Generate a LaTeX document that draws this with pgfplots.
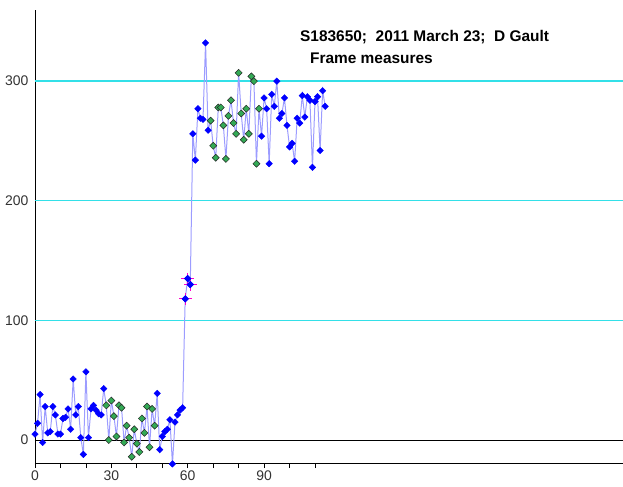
\documentclass[border=0pt]{standalone}
\usepackage{fontspec}
\setmainfont{Liberation Sans}
\usepackage{pgfplots}
\usepackage{pgfplotstable}
\pgfplotsset{compat=1.18}
\definecolor{lav}{HTML}{9C9CFF}
\definecolor{ptblue}{HTML}{0000FF}
\definecolor{ptgreen}{HTML}{33AA55}
\definecolor{gridcyan}{HTML}{33E0E8}
\definecolor{lbl}{HTML}{333333}
\definecolor{errmag}{HTML}{FF00CC}

\pgfplotstableread{
x y c
0 5 0
1 14 0
2 38 0
3 -2 0
4 28 0
5 6 0
6 7 0
7 28 0
8 21 0
9 5 0
10 5 0
11 18 0
12 19 0
13 26 0
14 9 0
15 51 0
16 21 0
17 28 0
18 2 0
19 -12 0
20 57 0
21 2 0
22 26 0
23 29 0
24 25 0
25 22 0
26 21 0
27 43 0
28 29 1
29 0 1
30 33 1
31 20 1
32 3 1
33 29 1
34 27 1
35 -2 1
36 12 1
37 2 1
38 -14 1
39 9 1
40 -3 1
41 -10 1
42 18 1
43 6 1
44 28 1
45 -6 1
46 26 1
47 12 1
48 39 0
49 -8 0
50 3 0
51 7 0
52 9 0
53 17 0
54 -20 0
55 15 0
56 21 0
57 25 0
58 27 0
59 118 0
60 135 0
61 130 0
62 256 0
63 234 0
64 277 0
65 269 0
66 268 0
67 332 0
68 259 0
69 267 1
70 246 1
71 236 1
72 278 1
73 278 1
74 263 1
75 235 1
76 271 1
77 284 1
78 265 1
79 256 1
80 307 1
81 273 1
82 251 1
83 277 1
84 256 1
85 304 1
86 300 1
87 231 1
88 277 1
89 254 0
90 286 0
91 277 0
92 231 0
93 289 0
94 279 0
95 300 0
96 269 0
97 273 0
98 286 0
99 263 0
100 245 0
101 248 0
102 233 0
103 269 0
104 265 0
105 288 0
106 270 0
107 287 0
108 284 0
109 228 0
110 283 0
111 287 0
112 242 0
113 292 0
114 279 0
}\frames

\begin{document}
\begin{tikzpicture}
\begin{axis}[
  scale only axis,
  width=588bp, height=453bp,
  xmin=0, xmax=231, ymin=-19.2, ymax=359.5,
  axis x line=bottom, axis y line=left,
  axis line style={-, black, line width=0.8bp},
  xtick={0,10,...,110},
  xticklabels={0,,,30,,,60,,,90,,},
  ytick={0,100,200,300},
  x tick style={black, line width=0.8bp},
  y tick style={draw=none},
  tick align=outside,
  major tick length=5bp,
  tick label style={font=\fontsize{14}{16}\selectfont, text=lbl},
  /pgf/number format/assume math mode=true,
  yticklabel style={xshift=2bp},
  xticklabel style={yshift=1bp},
  clip=false,
]
\draw[draw=gridcyan, line width=1.2bp] (axis cs:0,100) -- (axis cs:231,100);
\draw[draw=gridcyan, line width=1.2bp] (axis cs:0,200) -- (axis cs:231,200);
\draw[draw=gridcyan, line width=1.4bp] (axis cs:0,300.3) -- (axis cs:231,300.3);
\draw[black, line width=0.8bp] (axis cs:0,0) -- (axis cs:231,0);
\addplot[lav, line width=1bp, no marks] table[x=x, y=y] {\frames};
\addplot[only marks, mark=square*, mark size=2.3bp,
  mark options={rotate=45, draw=ptblue, fill=ptblue},
  restrict expr to domain={\thisrow{c}}{-0.5:0.5}] table[x=x, y=y] {\frames};
\addplot[only marks, mark=square*, mark size=2.5bp,
  mark options={rotate=45, draw=black!85, fill=ptgreen, line width=0.5bp},
  restrict expr to domain={\thisrow{c}}{0.5:1.5}] table[x=x, y=y] {\frames};
\addplot[
  only marks, mark=none,
  error bars/.cd, x dir=both, x explicit, y dir=both, y explicit,
  error mark=none,
  error bar style={errmag, line width=0.9bp},
] coordinates {
  (59,118) +- (2.5,5)
  (60,135) +- (2.5,5)
  (61,130) +- (2.5,5)
};
\addplot[only marks, mark=square*, mark size=2.3bp, mark options={rotate=45, draw=ptblue, fill=ptblue}] coordinates {(59,118) (60,135) (61,130)};
\node[anchor=west, font=\fontsize{15.5}{18}\selectfont\bfseries, inner sep=0pt] at (axis cs:104.1,337) {S183650;\ \ 2011 March 23;\ \ D Gault};
\node[anchor=west, font=\fontsize{15.5}{18}\selectfont\bfseries, inner sep=0pt] at (axis cs:108,319.4) {Frame measures};
\end{axis}
\pgfresetboundingbox
\path[use as bounding box] (-35bp,-24bp) rectangle (588bp,463bp);
\end{tikzpicture}
\end{document}
